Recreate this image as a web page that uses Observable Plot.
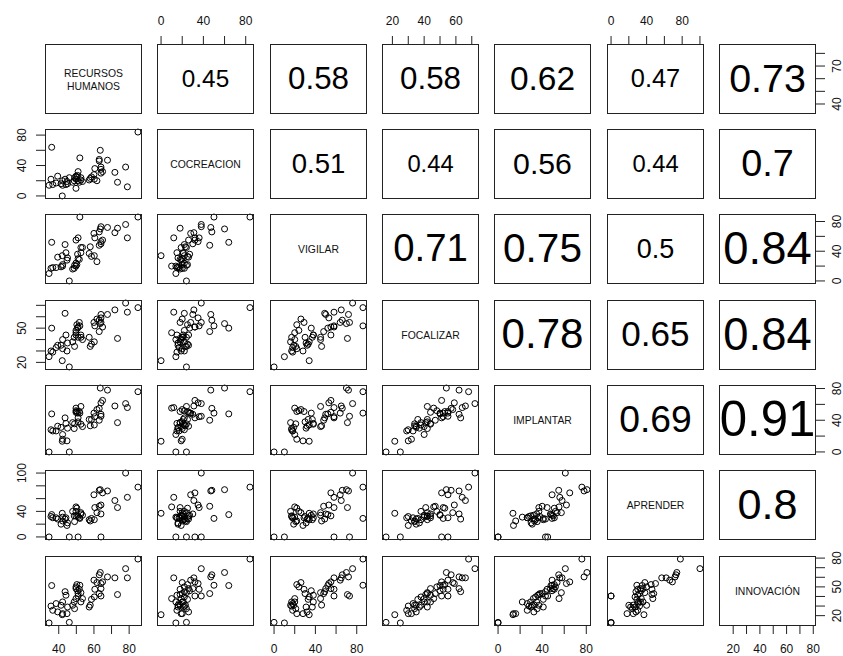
<!DOCTYPE html>
<html>
<head>
<meta charset="utf-8">
<script src="https://cdn.jsdelivr.net/npm/d3@7"></script>
<script src="https://cdn.jsdelivr.net/npm/@observablehq/plot@0.6"></script>
<style>
  body { margin: 0; background: #fff; }
  #chart { position: relative; width: 843px; height: 656px; overflow: hidden; background: #fff;
           font-family: "Liberation Sans", Arial, sans-serif; }
  #chart svg { position: absolute; background: transparent !important; overflow: visible; max-width: none; }
</style>
</head>
<body>
<div id="chart"></div>
<script>
// ---- variable names (diagonal labels) ----
const varLabels = ["RECURSOS\nHUMANOS", "COCREACION", "VIGILAR", "FOCALIZAR", "IMPLANTAR", "APRENDER", "INNOVACIÓN"];

const RH  = [85,78,63.6,63,67.7,71.9,79,60,64.9,61.7,64,50.3,36,52,49.8,64,49.8,60.5,51.7,50.7,43.6,52.6,63,51,73.4,44.1,64,51,60.2,49.8,53.5,58.6,48.8,52.6,42.2,38.5,57.9,47.9,41.3,35.6,57.3,45,49,36.6,39.4,42.2,44.7,42,46,34.5];
const COC = [84,38,60,48,47,31,12,28,32,20,35,25,64,50,22,30,26,36,18,27,22,24,46,20,18,15,38,32,22,10,19,25,20,21,14,17,23,18,16,22,21,16,24,15,26,20,19,0,24,14];
const VIG = [86,76,70,66,72,65,58,64,55,26,53,22,52,86,24,50,55,58,29,36,49,45,48,30,71,38,73,58,34,20,45,33,17,38,20,18,46,16,19,17,37,31,21,18,32,22,28,34,0,10];
const FOC = [68,72,54,57,62,66,64,55,51,58,59,53,50,52,48,62,44,52,55,50,63,42,47,42,41,44,55,51,38,46,40,36,42,44,40,33,34,38,35,30,42,37,34,29,35,32,30,21.5,16,25];
const IMP = [76,61,80.6,55,78,58,56,49,65,53.5,62,51,48,49,52,47.5,50,44.5,51,49,43,57.4,40,38,37,36,45,43,34,55.3,32,41,29.5,35,22,26.5,33,37,31,28,41,30,35.5,26.5,32.5,16,14,13.5,0,0];
const APR = [78,100,74,73,72,57,62,66,69,38,50,45,35,29,40,36,33,46,30,34,28,38,48,32,46,30,0,0,27,47,34,29,33,36,31,30,25,40,20,32,27,22,24,30,28,25,18,37,0,0];
const INN = [79,69,65,62.6,60.4,59.4,59.4,57,55.2,54.5,53.5,52.4,51.4,51.7,50,48.2,48.2,47.5,47.5,46,45,44,43,43,42,41.3,40.5,40.5,39.5,37.8,37.8,37,34.3,34.3,34.3,32.6,31,30.8,30.8,30,29,29,27.3,25.6,23.9,22.1,22.1,21,13,12.4];

// ---- correlations printed in the upper panels (row by row) ----
const corRow1 = [0.45, 0.58, 0.58, 0.62, 0.47, 0.73];
const corRow2 = [0.51, 0.44, 0.56, 0.44, 0.7];
const corRow3 = [0.71, 0.75, 0.5, 0.84];
const corRow4 = [0.78, 0.65, 0.84];
const corRow5 = [0.69, 0.91];
const corRow6 = [0.8];

// ---- axis ticks and labelled ticks ----
const tickValues = [
  [40,50,60,70,80],
  [0,20,40,60,80],
  [0,20,40,60,80],
  [20,30,40,50,60,70],
  [0,20,40,60,80],
  [0,20,40,60,80,100],
  [20,30,40,50,60,70,80]
];
const xTickLabels = [[40,60,80],[0,40,80],[0,40,80],[20,40,60],[0,40,80],[0,40,80],[20,40,60,80]];
const yTickLabels = [[40,70],[0,40,80],[0,40,80],[20,50],[0,40,80],[0,40,100],[20,50,80]];

// ---- build ----
const vars = [RH, COC, VIG, FOC, IMP, APR, INN];
const corRows = [corRow1, corRow2, corRow3, corRow4, corRow5, corRow6];
const N = INN.length;
const table = d3.range(N).map(i => vars.map(v => v[i]));
const domains = vars.map(v => {
  const [a, b] = d3.extent(v);
  const pad = (b - a) * 0.04;
  return [a - pad, b + pad];
});

const K = vars.length;
const M = 40, W = 96, H = 69;
const colLeft = c => Math.round(45 + c * 112.3);
const rowTop = r => Math.round(43.7 + r * 85.3);
const root = document.getElementById("chart");
const ink = "#111";
const tickFont = 12;

for (let r = 0; r < K; r++) {
  for (let c = 0; c < K; c++) {
    const marks = [];
    if (r > c) {
      marks.push(Plot.dot(table, {x: d => d[c], y: d => d[r], r: 3, stroke: "#000", strokeWidth: 1, fill: "none"}));
    } else if (r === c) {
      marks.push(Plot.text([varLabels[c]], {text: d => d, frameAnchor: "middle", fontSize: 10.4, lineHeight: 1.28, fill: ink}));
    } else {
      const v = corRows[r][c - r - 1];
      marks.push(Plot.text([String(v)], {text: d => d, frameAnchor: "middle", fontSize: 54 * v, fill: "#000"}));
    }
    marks.push(Plot.frame({stroke: "#222", strokeWidth: 1}));

    if (r === K - 1 && c % 2 === 0) {
      marks.push(Plot.axisX(tickValues[c], {anchor: "bottom", tickSize: 9, fill: "none", label: null, stroke: "#222"}));
      marks.push(Plot.text(xTickLabels[c], {x: d => d, text: d => String(d), frameAnchor: "bottom", dy: 24, fontSize: tickFont, lineAnchor: "middle", fill: ink}));
    }
    if (r === 0 && c % 2 === 1) {
      marks.push(Plot.axisX(tickValues[c], {anchor: "top", tickSize: 9, fill: "none", label: null, stroke: "#222"}));
      marks.push(Plot.text(xTickLabels[c], {x: d => d, text: d => String(d), frameAnchor: "top", dy: -23.5, fontSize: tickFont, lineAnchor: "middle", fill: ink}));
    }
    if (c === 0 && r % 2 === 1) {
      marks.push(Plot.axisY(tickValues[r], {anchor: "left", tickSize: 9, fill: "none", label: null, stroke: "#222"}));
      marks.push(Plot.text(yTickLabels[r], {y: d => d, text: d => String(d), frameAnchor: "left", dx: -23.5, rotate: -90, textAnchor: "middle", lineAnchor: "middle", fontSize: tickFont, fill: ink}));
    }
    if (c === K - 1 && r % 2 === 0) {
      marks.push(Plot.axisY(tickValues[r], {anchor: "right", tickSize: 9, fill: "none", label: null, stroke: "#222"}));
      marks.push(Plot.text(yTickLabels[r], {y: d => d, text: d => String(d), frameAnchor: "right", dx: 21.5, rotate: -90, textAnchor: "middle", lineAnchor: "middle", fontSize: tickFont, fill: ink}));
    }

    const svg = Plot.plot({
      width: W + 2 * M,
      height: H + 2 * M,
      marginTop: M, marginRight: M, marginBottom: M, marginLeft: M,
      x: {domain: domains[c], axis: null},
      y: {domain: domains[r], axis: null},
      style: {background: "transparent", overflow: "visible", fontFamily: "'Liberation Sans', Arial, sans-serif"},
      marks
    });
    svg.style.position = "absolute";
    svg.style.left = (colLeft(c) - M) + "px";
    svg.style.top = (rowTop(r) - M) + "px";
    root.append(svg);
  }
}
</script>
</body>
</html>
